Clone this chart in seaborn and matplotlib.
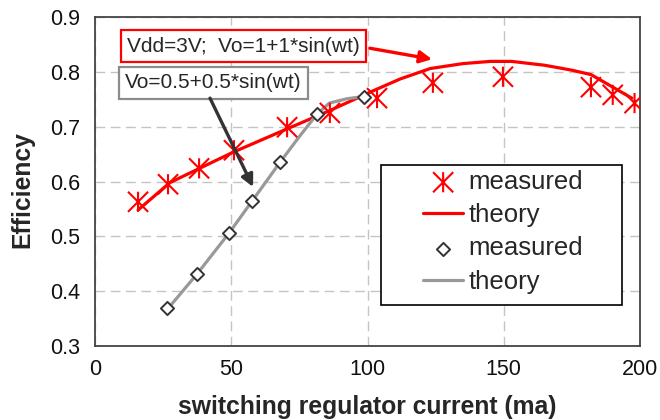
import matplotlib
matplotlib.use("Agg")
import matplotlib.pyplot as plt
import seaborn as sns
import pandas as pd
from matplotlib.path import Path
from matplotlib.patches import Rectangle

# ---- data ----
red_meas_x = [15.8, 26.8, 38.2, 51.0, 70.5, 86.2, 103.5, 124.0, 149.7, 182.0, 190.0, 198.0]
red_meas_y = [0.563, 0.595, 0.624, 0.657, 0.699, 0.725, 0.752, 0.780, 0.791, 0.772, 0.758, 0.743]
red_theory_x = [15.8, 27.5, 50.5, 70.5, 86.0, 102.8, 112.0, 123.0, 135.0, 145.0, 153.0, 165.0, 175.0, 182.0, 189.0, 197.0]
red_theory_y = [0.548, 0.598, 0.653, 0.696, 0.729, 0.767, 0.787, 0.806, 0.815, 0.819, 0.819, 0.812, 0.803, 0.795, 0.775, 0.752]
gray_meas_x = [26.4, 37.4, 49.2, 57.6, 67.9, 81.5, 98.7]
gray_meas_y = [0.369, 0.431, 0.506, 0.564, 0.635, 0.723, 0.754]
gray_theory_x = [26.4, 37.4, 49.2, 57.6, 67.9, 75.0, 81.5, 86.0, 92.5, 98.7]
gray_theory_y = [0.366, 0.431, 0.506, 0.564, 0.635, 0.682, 0.723, 0.743, 0.751, 0.755]

x_ticks = [0, 50, 100, 150, 200]
y_ticks = [0.3, 0.4, 0.5, 0.6, 0.7, 0.8, 0.9]
x_label = "switching regulator current (ma)"
y_label = "Efficiency"
legend_labels = ["measured", "theory", "measured", "theory"]
note_red = "Vdd=3V;  Vo=1+1*sin(wt)"
note_gray = "Vo=0.5+0.5*sin(wt)"

# annotation placement (data coords)
note_red_pos = (54.5, 0.847)
note_red_arrow = ((100.9, 0.843), (123.7, 0.823))
note_gray_pos = (43.5, 0.780)
note_gray_arrow = ((42.2, 0.752), (58.0, 0.590))

red_meas = pd.DataFrame({"x": red_meas_x, "y": red_meas_y})
red_th = pd.DataFrame({"x": red_theory_x, "y": red_theory_y})
gray_meas = pd.DataFrame({"x": gray_meas_x, "y": gray_meas_y})
gray_th = pd.DataFrame({"x": gray_theory_x, "y": gray_theory_y})

sns.set_style("white")
plt.rcParams["font.family"] = ["Liberation Sans", "DejaVu Sans"]

fig = plt.figure(figsize=(6.6, 4.2), dpi=100)
ax = fig.add_axes([95 / 660, 1 - 346 / 420, 545 / 660, 329 / 420])

RED = "#ff0000"
GRAY = "#999999"

star = Path([(0, -1), (0, 1), (-1, -1), (1, 1), (-1, 1), (1, -1)],
            [Path.MOVETO, Path.LINETO, Path.MOVETO, Path.LINETO, Path.MOVETO, Path.LINETO])

sns.lineplot(data=red_th, x="x", y="y", ax=ax, color=RED, lw=2.3, sort=False,
             label="theory_red", zorder=3)
sns.lineplot(data=gray_th, x="x", y="y", ax=ax, color=GRAY, lw=2.3, sort=False,
             label="theory_gray", zorder=3)
sns.scatterplot(data=red_meas, x="x", y="y", ax=ax, marker=star, s=210,
                facecolor="none", edgecolor=RED, linewidth=1.5, label="meas_red", zorder=4)
sns.scatterplot(data=gray_meas, x="x", y="y", ax=ax, marker="D", s=45,
                facecolor="white", edgecolor="#333333", linewidth=1.4, label="meas_gray", zorder=5)

ax.set_xlim(0, 200)
ax.set_ylim(0.3, 0.9)
ax.set_xticks(x_ticks)
ax.set_yticks(y_ticks)
ax.set_xticklabels([str(t) for t in x_ticks])
ax.set_yticklabels([f"{t:.1f}" for t in y_ticks])
ax.grid(True, linestyle=(0, (7, 4)), color="#c4c4c4", lw=1, zorder=0)
ax.set_axisbelow(True)
for s in ax.spines.values():
    s.set_visible(True)
    s.set_color("#444444")
    s.set_linewidth(1.3)
ax.tick_params(direction="out", length=5.5, width=1.2, color="#444444",
               labelsize=15.5, labelcolor="#111111")
ax.tick_params(axis="y", pad=5)
ax.tick_params(axis="x", pad=4)

ax.set_xlabel(x_label, fontsize=17.8, fontweight="bold", labelpad=11)
ax.set_ylabel(y_label, fontsize=17.8, fontweight="bold")
ax.yaxis.set_label_coords(-0.112, 0.474)

# legend
handles, labels = ax.get_legend_handles_labels()
hmap = dict(zip(labels, handles))
order = ["meas_red", "theory_red", "meas_gray", "theory_gray"]
ax.add_patch(Rectangle((0.525, 0.125), 0.442, 0.425, transform=ax.transAxes,
                       facecolor="white", edgecolor="black", lw=1.2, zorder=6))
leg = ax.legend([hmap[k] for k in order], legend_labels, loc="upper left",
                bbox_to_anchor=(0.602, 0.535), frameon=False, fontsize=18.5,
                borderpad=0, borderaxespad=0, handlelength=1.56,
                handletextpad=0.2, labelspacing=0.36)
leg.set_zorder(7)

# annotations
ax.text(*note_red_pos, note_red, fontsize=15, ha="center", va="center", zorder=8,
        bbox=dict(boxstyle="square,pad=0.3", facecolor="white", edgecolor=RED, lw=1.6))
ax.annotate("", xy=note_red_arrow[1], xytext=note_red_arrow[0], zorder=8,
            arrowprops=dict(arrowstyle="-|>", color=RED, lw=2.4, mutation_scale=18,
                            shrinkA=0, shrinkB=0))
ax.text(*note_gray_pos, note_gray, fontsize=15, ha="center", va="center", zorder=8,
        bbox=dict(boxstyle="square,pad=0.3", facecolor="white", edgecolor="#8c8c8c", lw=1.6))
ax.annotate("", xy=note_gray_arrow[1], xytext=note_gray_arrow[0], zorder=8,
            arrowprops=dict(arrowstyle="-|>", color="#333333", lw=2.4, mutation_scale=18,
                            shrinkA=0, shrinkB=0))

fig.savefig("out.png", dpi=100)
